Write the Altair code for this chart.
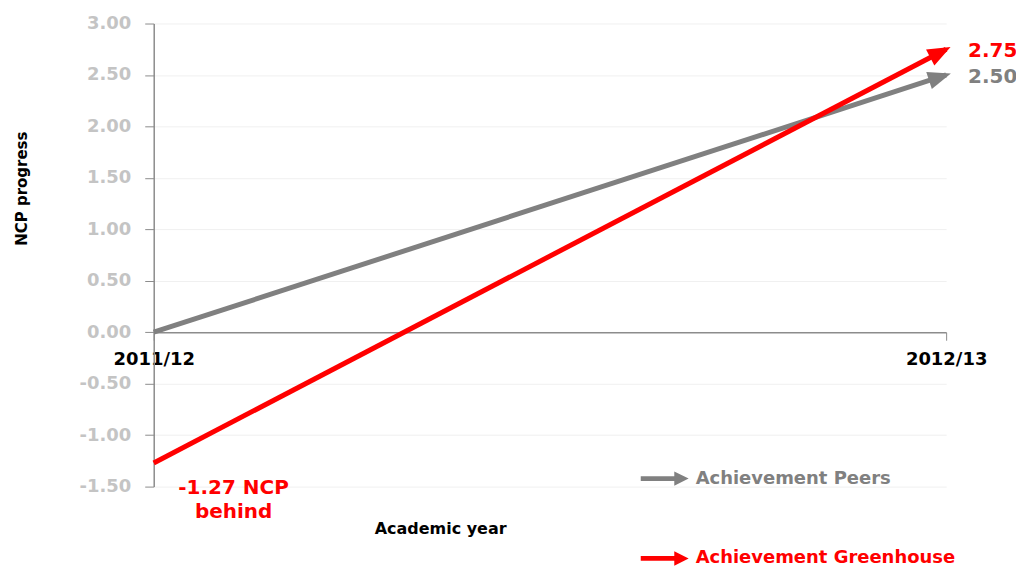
import math
import altair as alt
import pandas as pd

years = ["2011/12", "2012/13"]
series_names = ["Achievement Peers", "Achievement Greenhouse"]
peers = [0.0, 2.50]
greenhouse = [-1.27, 2.75]
series_colors = ["#808080", "#ff0000"]
y_ticks = [-1.5, -1.0, -0.5, 0.0, 0.5, 1.0, 1.5, 2.0, 2.5, 3.0]
end_labels = ["2.50", "2.75"]
start_note = "-1.27 NCP\nbehind"

W, H = 794, 464
YMIN, YMAX = -1.5, 3.0

rows = []
for name, vals in zip(series_names, [peers, greenhouse]):
    for yr, v in zip(years, vals):
        rows.append({"series": name, "year": yr, "value": v})
df = pd.DataFrame(rows)

# arrowhead rows (end points) with rotation angle matching line direction on screen
heads = []
for name, vals, lab in zip(series_names, [peers, greenhouse], end_labels):
    dy_px = (vals[1] - vals[0]) * H / (YMAX - YMIN)
    ang = (360 - math.degrees(math.atan2(dy_px, W))) % 360
    heads.append({"series": name, "year": years[1], "value": vals[1], "ang": ang, "label": lab})
heads_df = pd.DataFrame(heads)

note_df = pd.DataFrame([{"series": series_names[1], "year": years[0], "value": greenhouse[0], "label": start_note}])

FONT = "DejaVu Sans"
ARROW = "M-1,-0.1L0.4,-0.1L0.4,-0.3L1,0L0.4,0.3L0.4,0.1L-1,0.1Z"
HEAD = "M0.5,0L-1.8,-0.9L-1.8,0.9Z"

color_scale = alt.Scale(domain=series_names, range=series_colors)

x_enc = alt.X(
    "year:N",
    scale=alt.Scale(type="point", padding=0, domain=years),
    sort=years,
    axis=alt.Axis(
        title="Academic year",
        titleFont=FONT, titleFontSize=16, titleFontWeight="bold", titleColor="black",
        titleX=287, titleY=197, titleAlign="center", titleBaseline="middle",
        labelFont=FONT, labelFontSize=18, labelFontWeight="bold", labelColor="black",
        labelAngle=0, labelPadding=10,
        offset=-H * (0 - YMIN) / (YMAX - YMIN),
        domainColor="#8c8c8c", domainWidth=1.5,
        tickColor="#8c8c8c", tickSize=8, grid=False,
    ),
)
y_enc = alt.Y(
    "value:Q",
    scale=alt.Scale(domain=[YMIN, YMAX], nice=False, zero=False),
    axis=alt.Axis(
        title="NCP progress",
        titleFont=FONT, titleFontSize=15, titleFontWeight="bold", titleColor="black",
        titleAngle=270, titleX=-132, titleY=165, titleAlign="center", titleBaseline="middle",
        values=y_ticks,
        labelExpr="datum.value < 0 ? '-' + format(-datum.value, '.2f') : format(datum.value, '.2f')",
        labelFont=FONT, labelFontSize=18, labelFontWeight="bold", labelColor="#c4c4c4",
        labelPadding=14,
        domainColor="#8c8c8c", domainWidth=1.5,
        tickColor="#8c8c8c", tickSize=9,
        grid=True, gridColor="#f0f0f0", gridWidth=1,
    ),
)

arrowheads = alt.Chart(heads_df).mark_point(
    shape=HEAD, filled=True, size=400, opacity=1, strokeWidth=0
).encode(
    x=x_enc,
    y=y_enc,
    angle=alt.Angle("ang:Q", scale=None),
    color=alt.Color(
        "series:N",
        scale=color_scale,
        legend=alt.Legend(
            orient="none", legendX=488, legendY=432, title=None,
            symbolType=ARROW, symbolSize=2304, symbolStrokeWidth=0, symbolOpacity=1,
            labelFont=FONT, labelFontSize=18, labelFontWeight="bold", labelLimit=0,
            labelColor=alt.ExprRef("datum.label === 'Achievement Peers' ? '#808080' : '#ff0000'"),
            labelOffset=7, rowPadding=47, padding=0,
        ),
    ),
)

lines = alt.Chart(df).mark_line(strokeWidth=5, strokeCap="butt").encode(
    x=alt.X("year:N", sort=years),
    y="value:Q",
    color=alt.Color("series:N", scale=color_scale),
    detail="series:N",
)

end_text = alt.Chart(heads_df).mark_text(
    align="left", baseline="middle", dx=22, dy=2,
    font=FONT, fontSize=20, fontWeight="bold",
).encode(
    x=alt.X("year:N", sort=years),
    y="value:Q",
    text="label:N",
    color=alt.Color("series:N", scale=color_scale),
)

note_text = alt.Chart(note_df).mark_text(
    align="center", baseline="middle", dx=80, dy=25, lineBreak="\n", lineHeight=24,
    font=FONT, fontSize=20, fontWeight="bold",
).encode(
    x=alt.X("year:N", sort=years),
    y="value:Q",
    text="label:N",
    color=alt.Color("series:N", scale=color_scale),
)

chart = (
    alt.layer(arrowheads, lines, end_text, note_text)
    .properties(
        width=W, height=H,
        autosize=alt.AutoSizeParams(type="none"),
        padding={"left": 146, "top": 15, "right": 70, "bottom": 82},
        background="white",
    )
    .configure_view(stroke=None)
)

chart.save("out.html", embed_options={"renderer": "svg", "actions": False})
